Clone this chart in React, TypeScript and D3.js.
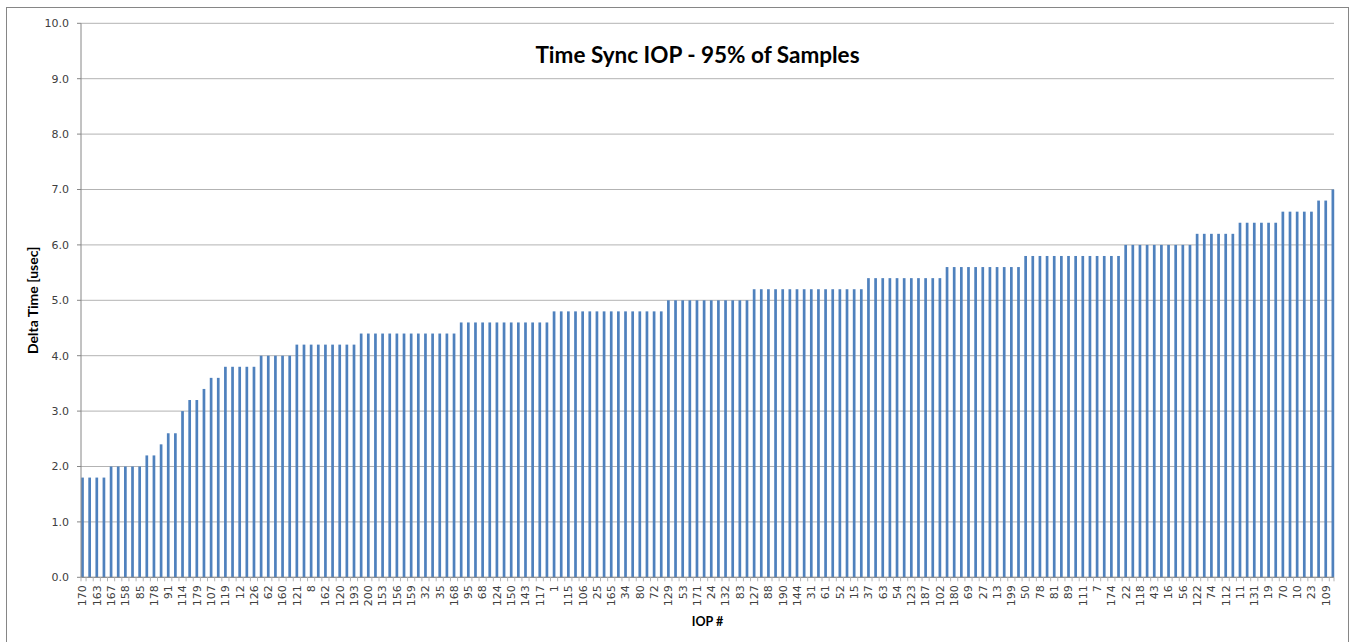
import React from "react";
import * as d3 from "d3";

// Visible category labels (every second IOP is labelled on the axis)
const tickLabels: string[] = [
  "170","163","167","158","85","178","91","114","179","107","119","12","126","62","160",
  "121","8","162","120","193","200","153","156","159","32","35","168","95","68","124",
  "150","143","117","1","115","106","25","165","34","80","72","129","53","171","24",
  "132","83","127","88","190","144","31","61","52","15","37","63","54","123","187",
  "102","180","69","27","13","199","50","78","81","89","111","7","174","22","118",
  "43","16","56","122","74","112","11","131","19","70","10","23","109"
];

// Delta time per IOP (usec), sorted ascending, 176 bars
const deltaValues: number[] = [
  1.8,1.8,1.8,1.8,
  2.0,2.0,2.0,2.0,2.0,
  2.2,2.2,
  2.4,
  2.6,2.6,
  3.0,
  3.2,3.2,
  3.4,
  3.6,3.6,
  3.8,3.8,3.8,3.8,3.8,
  4.0,4.0,4.0,4.0,4.0,
  4.2,4.2,4.2,4.2,4.2,4.2,4.2,4.2,4.2,
  4.4,4.4,4.4,4.4,4.4,4.4,4.4,4.4,4.4,4.4,4.4,4.4,4.4,4.4,
  4.6,4.6,4.6,4.6,4.6,4.6,4.6,4.6,4.6,4.6,4.6,4.6,4.6,
  4.8,4.8,4.8,4.8,4.8,4.8,4.8,4.8,4.8,4.8,4.8,4.8,4.8,4.8,4.8,4.8,
  5.0,5.0,5.0,5.0,5.0,5.0,5.0,5.0,5.0,5.0,5.0,5.0,
  5.2,5.2,5.2,5.2,5.2,5.2,5.2,5.2,5.2,5.2,5.2,5.2,5.2,5.2,5.2,5.2,
  5.4,5.4,5.4,5.4,5.4,5.4,5.4,5.4,5.4,5.4,5.4,
  5.6,5.6,5.6,5.6,5.6,5.6,5.6,5.6,5.6,5.6,5.6,
  5.8,5.8,5.8,5.8,5.8,5.8,5.8,5.8,5.8,5.8,5.8,5.8,5.8,5.8,
  6.0,6.0,6.0,6.0,6.0,6.0,6.0,6.0,6.0,6.0,
  6.2,6.2,6.2,6.2,6.2,6.2,
  6.4,6.4,6.4,6.4,6.4,6.4,
  6.6,6.6,6.6,6.6,6.6,
  6.8,6.8,
  7.0
];

const yTicks: number[] = [0,1,2,3,4,5,6,7,8,9,10];
const labelEvery = 2;

const W = 1351;
const H = 642;
const plotLeft = 81;
const plotRight = 1334;
const plotTop = 23.3;
const plotBottom = 577.3;

export default function App() {
  const n = deltaValues.length;
  const step = 7.145;
  const bandStart = 82.5 - step / 2;
  const x = d3
    .scaleBand<number>()
    .domain(d3.range(n))
    .range([bandStart, bandStart + step * n])
    .paddingInner(0)
    .paddingOuter(0);
  const y = d3.scaleLinear().domain([0, 10]).range([plotBottom, plotTop]);
  const barW = 2.7;
  const fmt = d3.format(".1f");
  const tickFont = "'DejaVu Sans', Verdana, sans-serif";
  const titleFont = "Lato, 'Open Sans', sans-serif";

  return (
    <svg width={W} height={H} style={{ position: "absolute", left: 0, top: 0, background: "#fff" }}>
      <rect x={6.5} y={7.5} width={1342} height={640} fill="#fff" stroke="#868686" strokeWidth={1} />
      {/* gridlines */}
      {yTicks.map((t) => (
        <line key={"g" + t} x1={plotLeft} x2={plotRight} y1={y(t)} y2={y(t)} stroke="#b3b3b3" strokeWidth={1} />
      ))}
      {/* bars */}
      {deltaValues.map((v, i) => {
        const cx = (x(i) as number) + x.bandwidth() / 2;
        return (
          <rect key={"b" + i} x={cx - barW / 2} y={y(v)} width={barW} height={plotBottom - y(v)} fill="#4F81BD" />
        );
      })}
      {/* y axis */}
      <line x1={plotLeft} x2={plotLeft} y1={plotTop} y2={plotBottom} stroke="#868686" strokeWidth={1} />
      {yTicks.map((t) => (
        <g key={"yt" + t}>
          <line x1={plotLeft - 4} x2={plotLeft} y1={y(t)} y2={y(t)} stroke="#868686" strokeWidth={1} />
          <text x={69} y={y(t)} dy="0.35em" textAnchor="end" fontFamily={tickFont} fontSize={11} fill="#404040">
            {fmt(t)}
          </text>
        </g>
      ))}
      {/* x axis */}
      <line x1={plotLeft} x2={plotRight} y1={plotBottom} y2={plotBottom} stroke="#868686" strokeWidth={1} />
      {d3.range(n + 1).map((k) => {
        const bx = Math.min(Math.max(bandStart + step * k, plotLeft), plotRight);
        return <line key={"xt" + k} x1={bx} x2={bx} y1={plotBottom} y2={plotBottom + 4} stroke="#b3b3b3" strokeWidth={1} />;
      })}
      {tickLabels.map((lab, j) => {
        const i = j * labelEvery;
        const cx = (x(i) as number) + x.bandwidth() / 2;
        return (
          <text
            key={"xl" + j}
            transform={`translate(${cx},${plotBottom + 8}) rotate(-90)`}
            textAnchor="end"
            dy="0.35em"
            fontFamily={tickFont}
            fontSize={11}
            fill="#404040"
          >
            {lab}
          </text>
        );
      })}
      {/* titles */}
      <text x={697.5} y={63} textAnchor="middle" fontFamily={titleFont} fontWeight="bold" fontSize={22.5} fill="#000">
        Time Sync IOP - 95% of Samples
      </text>
      <text
        transform={`translate(38,${(plotTop + plotBottom) / 2}) rotate(-90)`}
        textAnchor="middle"
        fontFamily={titleFont}
        fontWeight="bold"
        fontSize={14}
        fill="#000"
      >
        Delta Time [usec]
      </text>
      <text x={(plotLeft + plotRight) / 2} y={626} textAnchor="middle" fontFamily={titleFont} fontWeight="bold" fontSize={12.5} fill="#000">
        IOP #
      </text>
    </svg>
  );
}
